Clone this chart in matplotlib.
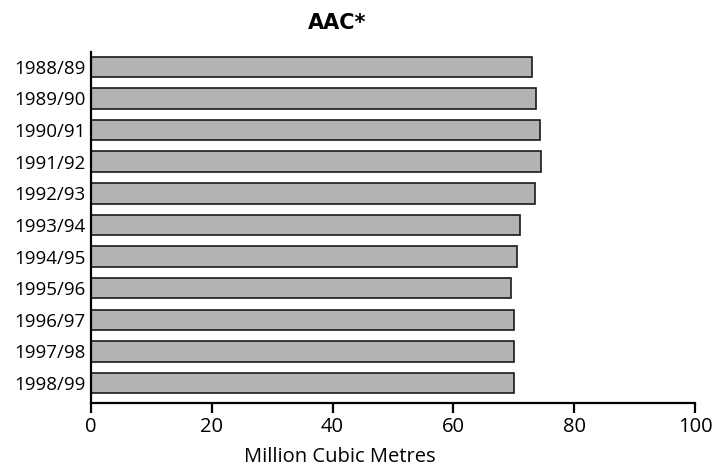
import matplotlib
matplotlib.use("Agg")
import matplotlib.pyplot as plt
import numpy as np

# data
years = ["1988/89", "1989/90", "1990/91", "1991/92", "1992/93", "1993/94",
         "1994/95", "1995/96", "1996/97", "1997/98", "1998/99"]
aac = [73.0, 73.6, 74.4, 74.5, 73.5, 71.1, 70.5, 69.6, 70.0, 70.1, 70.1]

plt.rcParams['font.family'] = ['Open Sans', 'DejaVu Sans']

W, H = 715, 469
fig = plt.figure(figsize=(W / 100, H / 100), dpi=100)
ax = fig.add_axes([91 / W, 1 - 403 / H, 604 / W, 351 / H])

y = np.arange(len(years))
ax.barh(y, aac, height=0.65, color="#b3b3b3", edgecolor="#1a1a1a", linewidth=1.2)

ax.set_xlim(0, 100)
ax.set_ylim(10.63, -0.47)
ax.set_xticks([0, 20, 40, 60, 80, 100])
ax.set_yticks(y)
ax.set_yticklabels(years)

ax.spines['top'].set_visible(False)
ax.spines['right'].set_visible(False)
ax.spines['left'].set_linewidth(1.6)
ax.spines['bottom'].set_linewidth(1.6)
ax.tick_params(axis='x', direction='out', length=7, width=1.6, labelsize=14.5, pad=3)
ax.tick_params(axis='y', length=0, labelsize=13.5, pad=4)

# title and axis label sit left of the axis centre in the reference
fig.text(340 / W, 1 - 462 / H, "Million Cubic Metres", ha='center', va='baseline', fontsize=14.5)
fig.text(337 / W, 1 - 29 / H, "AAC*", ha='center', va='baseline', fontsize=15,
         fontweight='bold', family=['DejaVu Sans'])

fig.savefig("out.png", dpi=100)
